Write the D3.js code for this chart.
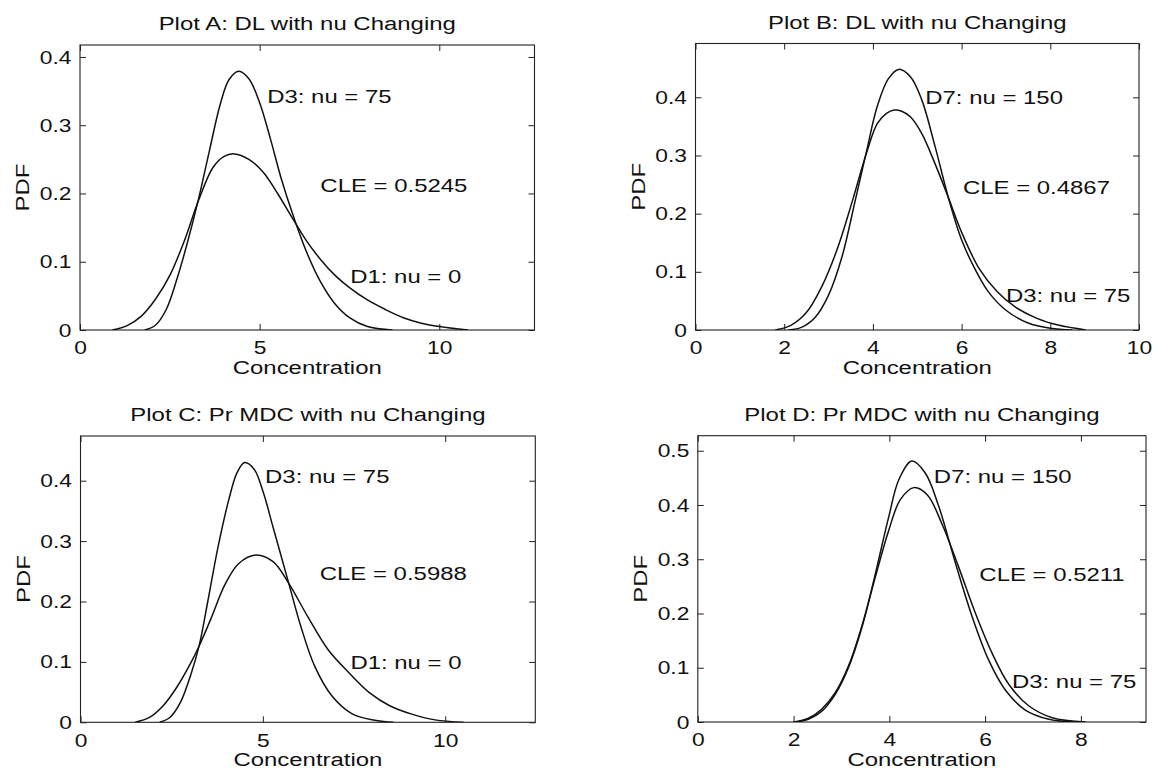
<!doctype html>
<html>
<head>
<meta charset="UTF-8">
<script src="https://cdn.jsdelivr.net/npm/d3@7"></script>
<style>
  body { margin: 0; background: #fff; }
  svg text { font-family: "Liberation Sans", Arial, sans-serif; fill: #111; }
</style>
</head>
<body>
<script>
// ---- values ----
// Plot A: DL, nu changing
const plotA_D1_x = [0.9, 1.3, 1.7, 2.1, 2.5, 2.9, 3.3, 3.7, 4.0, 4.3, 4.7, 5.1, 5.5, 5.9, 6.3, 6.7, 7.1, 7.5, 8.0, 8.5, 9.0, 9.5, 10.0, 10.8];
const plotA_D1_y = [0, 0.006, 0.02, 0.045, 0.08, 0.13, 0.19, 0.238, 0.254, 0.258, 0.25, 0.231, 0.2, 0.165, 0.131, 0.103, 0.08, 0.062, 0.044, 0.03, 0.018, 0.01, 0.005, 0];
const plotA_D3_x = [1.8, 2.1, 2.4, 2.7, 3.0, 3.3, 3.6, 3.9, 4.15, 4.42, 4.7, 5.0, 5.3, 5.6, 5.95, 6.3, 6.7, 7.1, 7.5, 8.0, 8.7];
const plotA_D3_y = [0, 0.007, 0.03, 0.075, 0.13, 0.192, 0.262, 0.33, 0.367, 0.379, 0.368, 0.333, 0.28, 0.222, 0.165, 0.115, 0.07, 0.038, 0.018, 0.005, 0];

// Plot B: DL, nu changing
const plotB_D3_x = [1.8, 2.15, 2.5, 2.85, 3.2, 3.55, 3.85, 4.1, 4.3, 4.48, 4.65, 4.85, 5.1, 5.4, 5.7, 6.0, 6.4, 6.8, 7.2, 7.7, 8.2, 8.8];
const plotB_D3_y = [0, 0.008, 0.03, 0.075, 0.14, 0.225, 0.303, 0.355, 0.372, 0.378, 0.376, 0.366, 0.338, 0.286, 0.228, 0.168, 0.105, 0.066, 0.04, 0.02, 0.008, 0];
const plotB_D7_x = [2.1, 2.4, 2.7, 3.0, 3.3, 3.6, 3.85, 4.1, 4.35, 4.58, 4.85, 5.1, 5.4, 5.7, 6.0, 6.3, 6.6, 7.0, 7.5, 8.0, 8.5];
const plotB_D7_y = [0, 0.005, 0.022, 0.06, 0.125, 0.222, 0.305, 0.385, 0.432, 0.448, 0.435, 0.396, 0.316, 0.228, 0.155, 0.105, 0.066, 0.034, 0.012, 0.003, 0];

// Plot C: Pr MDC, nu changing
const plotC_D1_x = [1.5, 1.89, 2.26, 2.64, 3.02, 3.25, 3.58, 3.96, 4.34, 4.81, 5.28, 5.71, 6.23, 6.79, 7.36, 7.92, 8.49, 9.06, 9.72, 10.5];
const plotC_D1_y = [0, 0.008, 0.027, 0.058, 0.098, 0.126, 0.172, 0.228, 0.263, 0.277, 0.266, 0.23, 0.175, 0.12, 0.082, 0.049, 0.027, 0.014, 0.004, 0];
const plotC_D3_x = [2.17, 2.45, 2.74, 3.02, 3.25, 3.49, 3.77, 4.06, 4.29, 4.5, 4.76, 5.0, 5.28, 5.71, 6.04, 6.42, 6.89, 7.45, 8.11, 8.58];
const plotC_D3_y = [0, 0.008, 0.033, 0.078, 0.126, 0.2, 0.29, 0.367, 0.413, 0.43, 0.419, 0.383, 0.323, 0.23, 0.159, 0.093, 0.044, 0.014, 0.003, 0];

// Plot D: Pr MDC, nu changing
const plotD_D3_x = [2.0, 2.31, 2.59, 2.87, 3.15, 3.43, 3.71, 3.99, 4.23, 4.51, 4.79, 5.1, 5.45, 5.8, 6.15, 6.49, 6.91, 7.4, 8.1];
const plotD_D3_y = [0, 0.007, 0.024, 0.054, 0.104, 0.178, 0.268, 0.354, 0.41, 0.432, 0.419, 0.365, 0.285, 0.2, 0.126, 0.07, 0.03, 0.008, 0];
const plotD_D7_x = [2.05, 2.31, 2.59, 2.87, 3.15, 3.43, 3.71, 3.99, 4.2, 4.47, 4.75, 5.03, 5.38, 5.73, 6.08, 6.43, 6.84, 7.33, 7.82];
const plotD_D7_y = [0, 0.005, 0.02, 0.051, 0.101, 0.175, 0.274, 0.379, 0.447, 0.481, 0.459, 0.398, 0.293, 0.194, 0.113, 0.058, 0.022, 0.005, 0];

// tick values
const xTicksAC = [0, 5, 10];
const xTicksB = [0, 2, 4, 6, 8, 10];
const xTicksD = [0, 2, 4, 6, 8];
const yTicksABC = [0, 0.1, 0.2, 0.3, 0.4];
const yTicksD = [0, 0.1, 0.2, 0.3, 0.4, 0.5];

// text notes, placed in data coordinates
const notesA = [["D3: nu = 75", 5.21, 0.342], ["CLE = 0.5245", 6.69, 0.212], ["D1: nu = 0", 7.52, 0.079]];
const notesB = [["D7: nu = 150", 5.18, 0.401], ["CLE = 0.4867", 6.03, 0.246], ["D3: nu = 75", 7.0, 0.060]];
const notesC = [["D3: nu = 75", 5.06, 0.407], ["CLE = 0.5988", 6.56, 0.247], ["D1: nu = 0", 7.40, 0.100]];
const notesD = [["D7: nu = 150", 4.93, 0.454], ["CLE = 0.5211", 5.88, 0.272], ["D3: nu = 75", 6.56, 0.075]];

const zip = (xs, ys) => xs.map((x, i) => [x, ys[i]]);

const panels = [
  { title: "Plot A: DL with nu Changing", box: [80, 45, 534.5, 330], xMax: 12.65, yMax: 0.4175,
    xTicks: xTicksAC, yTicks: yTicksABC, notes: notesA,
    curves: [zip(plotA_D1_x, plotA_D1_y), zip(plotA_D3_x, plotA_D3_y)] },
  { title: "Plot B: DL with nu Changing", box: [695.5, 43.5, 1139, 330], xMax: 10, yMax: 0.4925,
    xTicks: xTicksB, yTicks: yTicksABC, notes: notesB,
    curves: [zip(plotB_D3_x, plotB_D3_y), zip(plotB_D7_x, plotB_D7_y)] },
  { title: "Plot C: Pr MDC with nu Changing", box: [80.5, 436, 535.3, 722.3], xMax: 12.47, yMax: 0.474,
    xTicks: xTicksAC, yTicks: yTicksABC, notes: notesC,
    curves: [zip(plotC_D1_x, plotC_D1_y), zip(plotC_D3_x, plotC_D3_y)] },
  { title: "Plot D: Pr MDC with nu Changing", box: [697.8, 435.7, 1146, 722], xMax: 9.36, yMax: 0.5277,
    xTicks: xTicksD, yTicks: yTicksD, notes: notesD,
    curves: [zip(plotD_D3_x, plotD_D3_y), zip(plotD_D7_x, plotD_D7_y)] }
];

// the scanned lettering is wider than it is tall
const fontSize = 19;
const tickStretch = 1.2;
const labelStretch = 1.26;
const tickLen = 6;

const svg = d3.select("body").append("svg")
    .attr("width", 1153)
    .attr("height", 771);

const yFmt = d => d === 0 ? "0" : d3.format(".1f")(d);

// wide text helper: anchor at (x, y), then stretch horizontally
function wideText(parent, str, x, y, anchor, rotate) {
  return parent.append("text")
      .attr("transform", "translate(" + x + "," + y + ")" + (rotate ? " rotate(" + rotate + ")" : "") + " scale(" + labelStretch + ",1)")
      .attr("text-anchor", anchor)
      .attr("font-size", fontSize)
      .text(str);
}

panels.forEach(function(p, k) {
  const [x0, y0, x1, y1] = p.box;
  const w = x1 - x0, h = y1 - y0;

  const x = d3.scaleLinear().domain([0, p.xMax]).range([0, w]);
  const y = d3.scaleLinear().domain([0, p.yMax]).range([h, 0]);

  const g = svg.append("g").attr("transform", "translate(" + x0 + "," + y0 + ")");

  // ticks on all four sides, pointing inwards
  g.append("g").attr("transform", "translate(0," + h + ")")
      .call(d3.axisBottom(x).tickValues(p.xTicks).tickFormat(d3.format("d")).tickSize(-tickLen).tickPadding(11));
  g.append("g")
      .call(d3.axisTop(x).tickValues(p.xTicks).tickFormat("").tickSize(-tickLen));
  const yAx = g.append("g")
      .call(d3.axisLeft(y).tickValues(p.yTicks).tickFormat(yFmt).tickSize(-tickLen).tickPadding(8.5));
  g.append("g").attr("transform", "translate(" + w + ",0)")
      .call(d3.axisRight(y).tickValues(p.yTicks).tickFormat("").tickSize(-tickLen));

  g.selectAll(".domain").remove();
  g.selectAll(".tick line").attr("stroke", "#222").attr("stroke-width", 1);
  g.selectAll(".tick text").attr("font-size", fontSize).attr("fill", "#111")
      .style("font-family", "'Liberation Sans', Arial, sans-serif")
      .attr("transform", "scale(" + tickStretch + ",1)");
  yAx.selectAll(".tick text").attr("x", -8.5 / tickStretch);

  g.append("rect")
      .attr("width", w).attr("height", h)
      .attr("fill", "none").attr("stroke", "#222").attr("stroke-width", 1.1);

  g.append("clipPath").attr("id", "clip" + k)
    .append("rect").attr("width", w).attr("height", h);

  const line = d3.line()
      .x(d => x(d[0]))
      .y(d => y(d[1]))
      .curve(d3.curveCatmullRom.alpha(0.5));

  g.append("g").attr("clip-path", "url(#clip" + k + ")")
    .selectAll("path")
    .data(p.curves)
    .enter().append("path")
      .attr("d", line)
      .attr("fill", "none")
      .attr("stroke", "#111")
      .attr("stroke-width", 1.5);

  p.notes.forEach(function(n) {
    wideText(g, n[0], x(n[1]), y(n[2]), "start").attr("dy", "0.36em");
  });

  wideText(g, p.title, w / 2, -15, "middle");
  wideText(g, "Concentration", w / 2, h + 44, "middle");
  wideText(g, "PDF", -51, h / 2, "middle", -90);
});
</script>
</body>
</html>
